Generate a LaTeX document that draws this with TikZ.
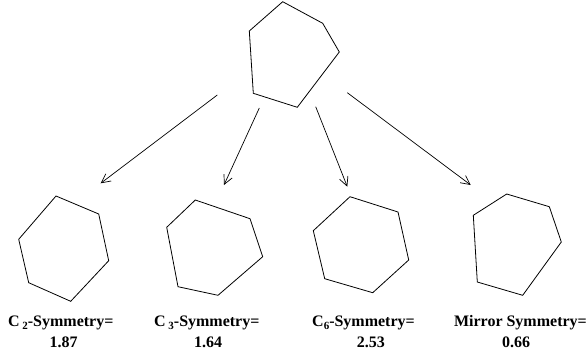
\documentclass[tikz,border=0pt]{standalone}
\usepackage{fontspec}
\setmainfont{Liberation Serif}
\usetikzlibrary{arrows.meta}
\tikzset{
  polyline/.style={draw=black, line width=0.8pt, line join=miter},
  conn/.style={draw=black, line width=0.7pt, -{Straight Barb[length=9pt,width=9pt,line width=0.7pt]}},
  lbl/.style={anchor=base west, inner sep=0pt, font=\bfseries\fontsize{16}{19}\selectfont}
}
\newcommand{\subdig}[1]{\raisebox{-0.35ex}{\fontsize{11}{12}\selectfont #1}}
\begin{document}
\begin{tikzpicture}[x=1pt,y=-1pt]
\useasboundingbox (0,0) rectangle (588,356);
% top polygon
\draw[polyline] (282.7,1.7) -- (322.7,23.3) -- (339.3,52) -- (297.3,107.3) -- (253.3,93.3) -- (249.3,31) -- cycle;
% bottom polygons
\draw[polyline] (56,196) -- (98.7,214) -- (108.7,260.7) -- (70.7,301.3) -- (28.7,282.7) -- (18.7,239.3) -- cycle;
\draw[polyline] (195.3,200) -- (250,218.7) -- (262.7,256.7) -- (218,295.3) -- (178,286.7) -- (166.7,227.3) -- cycle;
\draw[polyline] (350,196.7) -- (398,212) -- (408.7,260) -- (372.7,292.7) -- (324.7,278.7) -- (313.3,230.7) -- cycle;
\draw[polyline] (506.7,194) -- (549.3,206.7) -- (561.3,242) -- (522.7,295.3) -- (477.3,282) -- (473.3,215.3) -- cycle;
% arrow end points
\coordinate (s1) at (217.3,95);  \coordinate (e1) at (100.7,183.3);
\coordinate (s2) at (259.3,108); \coordinate (e2) at (224,185);
\coordinate (s3) at (315.7,106.7); \coordinate (e3) at (347.3,186.7);
\coordinate (s4) at (347.3,92.7); \coordinate (e4) at (470.7,185);
\draw[conn] (s1) -- (e1);
\draw[conn] (s2) -- (e2);
\draw[conn] (s3) -- (e3);
\draw[conn] (s4) -- (e4);
% labels
\node[lbl] (t1) at (8,326.7) {C\,\subdig{2}-Symmetry=};
\node[lbl] (n1) at (49.3,347.3) {1.87};
\node[lbl] (t2) at (154,326.7) {C\,\subdig{3}-Symmetry=};
\node[lbl] (n2) at (194,347.3) {1.64};
\node[lbl] (t3) at (312,326.7) {C\subdig{6}-Symmetry=};
\node[lbl] (n3) at (356.7,347.3) {2.53};
\node[lbl, anchor=base east] (t4) at (587,326.7) {Mirror Symmetry=};
\node[lbl] (n4) at (502,347.3) {0.66};
\end{tikzpicture}
\end{document}
